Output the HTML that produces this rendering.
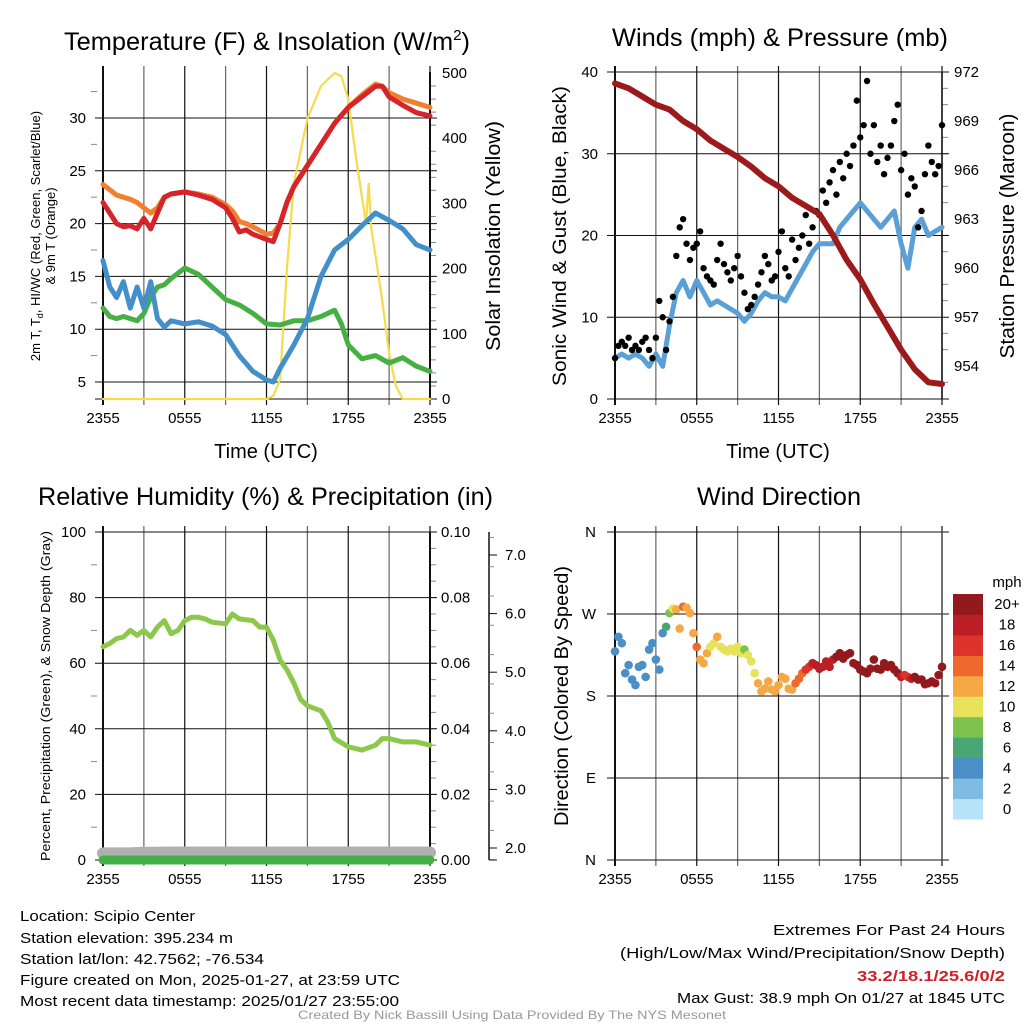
<!DOCTYPE html>
<html><head><meta charset="utf-8"><style>
html,body{margin:0;padding:0;background:#fff;}
svg{display:block;font-family:"Liberation Sans",sans-serif;}
</style></head><body>
<svg id="fig" width="1024" height="1024" viewBox="0 0 1024 1024" xmlns="http://www.w3.org/2000/svg">
<rect width="1024" height="1024" fill="#fff"/>
<text x="64" y="50" font-size="25" textLength="406" lengthAdjust="spacingAndGlyphs">Temperature (F) &amp; Insolation (W/m<tspan dy="-10" font-size="15">2</tspan><tspan dy="10">)</tspan></text>
<text x="612" y="46" font-size="25" textLength="336" lengthAdjust="spacingAndGlyphs">Winds (mph) &amp; Pressure (mb)</text>
<text x="38" y="505" font-size="25" textLength="455" lengthAdjust="spacingAndGlyphs">Relative Humidity (%) &amp; Precipitation (in)</text>
<text x="697" y="505" font-size="25" textLength="164" lengthAdjust="spacingAndGlyphs">Wind Direction</text>
<g id="g1"></g><g id="g2"></g><g id="g3"></g><g id="g4"></g>
<g font-size="15" font-family="'Liberation Sans Narrow','Liberation Sans',sans-serif">
<text x="20" y="921" textLength="175" lengthAdjust="spacingAndGlyphs">Location: Scipio Center</text>
<text x="20" y="943" textLength="213" lengthAdjust="spacingAndGlyphs">Station elevation: 395.234 m</text>
<text x="20" y="964" textLength="244" lengthAdjust="spacingAndGlyphs">Station lat/lon: 42.7562; -76.534</text>
<text x="20" y="985" textLength="380" lengthAdjust="spacingAndGlyphs">Figure created on Mon, 2025-01-27, at 23:59 UTC</text>
<text x="20" y="1006" textLength="379" lengthAdjust="spacingAndGlyphs">Most recent data timestamp: 2025/01/27 23:55:00</text>
</g>
<g font-size="15" font-family="'Liberation Sans Narrow','Liberation Sans',sans-serif" text-anchor="end">
<text x="1005" y="935" textLength="232" lengthAdjust="spacingAndGlyphs">Extremes For Past 24 Hours</text>
<text x="1005" y="958" textLength="385" lengthAdjust="spacingAndGlyphs">(High/Low/Max Wind/Precipitation/Snow Depth)</text>
<text x="1005" y="981" fill="#d0202a" font-weight="bold" textLength="148" lengthAdjust="spacingAndGlyphs">33.2/18.1/25.6/0/2</text>
<text x="1005" y="1003" textLength="328" lengthAdjust="spacingAndGlyphs">Max Gust: 38.9 mph On 01/27 at 1845 UTC</text>
</g>
<text x="512" y="1019" font-size="12" fill="#999" text-anchor="middle" font-family="'Liberation Sans Narrow','Liberation Sans',sans-serif" textLength="428" lengthAdjust="spacingAndGlyphs">Created By Nick Bassill Using Data Provided By The NYS Mesonet</text>
</svg>
<script>
// ---- data (hours since 2355 UTC) ----
const tT=[0,0.5,1,1.5,2,2.5,3,3.5,4,4.5,5,6,7,8,9,9.5,10,10.5,11,12,12.5,13,13.5,14,15,16,17,18,19,20,20.5,21,22,23,24];
const tempRed=[22,21,20,19.7,19.8,19.5,20.5,19.5,21,22.5,22.8,23,22.7,22.3,21.5,20.5,19.2,19.4,19,18.5,18.3,20,22,23.5,25.5,27.5,29.5,31,32,33,33,32,31.2,30.5,30.2];
const temp9m=[23.7,23.2,22.7,22.5,22.3,22,21.5,21,21.5,22.5,22.8,23,22.8,22.5,21.8,21.2,20.2,20,19.7,19,19.1,20,22,23.5,25.5,27.5,29.5,31,32.2,33.2,33,32.4,31.8,31.4,31];
const tD=[0,0.5,1,1.5,2,2.5,3,3.5,4,4.5,5,6,7,8,9,10,11,12,13,14,15,16,17,17.5,18,19,20,21,22,23,24];
const dewpt=[12,11.2,11,11.2,11,10.8,11.5,13,14,14.2,14.8,15.8,15.2,14,12.8,12.3,11.5,10.5,10.4,10.8,10.8,11.2,11.8,10.5,8.5,7.2,7.5,6.8,7.3,6.5,6];
const tB=[0,0.5,1,1.5,2,2.5,3,3.5,4,4.5,5,6,7,8,9,10,11,12,12.5,13,14,15,16,17,18,19,20,21,22,23,24];
const heatIdx=[16.5,14,13,14.5,12,14,12,14.5,11,10.2,10.8,10.5,10.7,10.3,9.5,7.5,6,5.2,5,6.3,8.5,11,15,17.5,18.5,19.8,21,20.3,19.5,18,17.5];
const tS=[0,12,12.5,13,13.5,14,15,16,17,17.5,18,18.5,19,19.3,19.5,19.7,20,20.5,21,21.5,22,24];
const solar=[0,0,5,30,200,330,430,480,500,495,460,380,310,270,330,260,220,150,70,20,0,0];
const tW=[0,0.5,1,1.5,2,2.5,3,3.5,4,4.5,5,5.5,6,6.5,7,7.5,8,8.5,9,9.5,10,10.5,11,11.5,12,12.5,13,13.5,14,14.5,15,15.5,16,16.5,17,17.5,18,18.5,19,19.5,20,20.5,21,21.5,22,22.5,23,23.5,24];
const windSpd=[5,5.5,5,5.5,5,4,5.5,4,9,13,14.5,12.5,14.5,13,11.5,12,11.5,11,10.5,9.5,10.5,12,13,12.5,12.5,12,13.5,15,16.5,18,19,19,19,21,22,23,24,23,22,21,22,23,19,16,21,22,20,20.5,21];
const gusts=[5,6.5,7,6.5,7.5,6,6.5,6,7,7.5,6,5,7.5,12,10,6,9.5,12.5,17.5,21,22,19,17,18.5,19,20.5,16,15,14.5,14,17,19,16.5,15.5,14.5,16,17.5,15,13,11,11.5,12.5,14,15.5,17.5,16.5,14.5,15,18,20.5,16,15,19.5,17,18.5,20,22.5,19,21,23,22.5,25.5,24,26.5,28,25,29,27,30,28.5,31,36.5,32,33.5,38.9,30,33.5,29,31,27.5,29.5,31,34,36,28,30,25,27,26,21,23,27.5,31,29,27.5,28.5,33.5];
const tP=[0,1,2,3,4,5,6,7,8,9,10,11,12,13,14,15,16,17,18,19,20,21,22,23,24];
const pressure=[971.3,971.0,970.5,970.0,969.7,969.0,968.5,967.8,967.3,966.8,966.2,965.5,965.0,964.3,963.8,963.3,962.0,960.5,959.3,957.8,956.4,955.0,953.8,953.0,952.9];
const tR=[0,0.5,1,1.5,2,2.5,3,3.5,4,4.5,5,5.5,6,6.5,7,7.5,8,9,9.5,10,11,11.5,12,12.5,13,13.5,14,14.5,15,16,16.5,17,18,19,20,20.5,21,22,23,24];
const rh=[65,66,67.5,68,70,68.5,70,68,71,73,69,70,73,74,74,73.5,72.5,72,75,73.5,73,71,71,67,61,58,54,49,47,45.5,42,37,34.5,33.5,35,37,37,36,36,35];
const precip=[0,0,0,0,0,0,0,0,0,0,0,0,0,0,0,0,0,0,0,0,0,0,0,0,0];
const snowDepth=[2,2,2,2.2,2.2,2.3,2.3,2.3,2.3,2.3,2.3,2.3,2.3,2.3,2.3,2.3,2.3,2.3,2.3,2.3,2.3,2.3,2.3,2.3,2.3];
const windDir=[229,245,238,205,214,198,192,212,214,201,231,238,220,209,249,256,271,276,275,254,278,277,271,249,234,220,216,227,234,238,245,234,231,229,232,229,234,227,231,225,218,205,194,185,188,196,187,185,192,201,199,188,187,194,199,205,209,212,216,214,210,212,218,212,220,223,227,221,225,227,216,214,209,207,205,210,220,210,209,216,212,214,209,205,201,203,201,199,201,198,198,193,194,196,194,203,212];
const cbLabels=["0","2","4","6","8","10","12","14","16","18","20+"];
const cbColors=["#b6e3f8","#80bbe4","#4a8fc6","#4aa674","#7dc24a","#e6e25a","#f6a845","#ee6a2c","#dc342b","#bb1e25","#921a1d"];
const timeLabels=["2355","0555","1155","1755","2355"];

// ---- helpers ----
const NS="http://www.w3.org/2000/svg";
function mk(parent,tag,attrs,txt){const e=document.createElementNS(NS,tag);for(const k in attrs)e.setAttribute(k,attrs[k]);if(txt!==undefined)e.textContent=txt;parent.appendChild(e);return e;}
function interp(ts,vs,t){for(let i=0;i<ts.length-1;i++){if(t<=ts[i+1]){const f=(t-ts[i])/(ts[i+1]-ts[i]);return vs[i]+f*(vs[i+1]-vs[i]);}}return vs[vs.length-1];}
function line(g,ts,vs,xs,ys,color,w,name){const d=ts.map((t,i)=>(i?"L":"M")+xs(t).toFixed(1)+","+ys(vs[i]).toFixed(1)).join("");const p=mk(g,"path",{d:d,fill:"none",stroke:color,"stroke-width":w,"stroke-linejoin":"round","stroke-linecap":"round"});

return p;}
function frame(g,x0,x1,y0,y1,hTicks,name){
 for(let k=0;k<=8;k++){const x=x0+k*(x1-x0)/8;const l=mk(g,"line",{x1:x,x2:x,y1:y0-6,y2:y1+6,stroke:k%2?"#666":"#111","stroke-width":k===0?2:1.2});
 
 }
 hTicks.forEach(y=>{const l=mk(g,"line",{x1:x0-8,x2:x1+7,y1:y,y2:y,stroke:"#111","stroke-width":1});
 
 });
 timeLabels.forEach((s,i)=>{const t=mk(g,"text",{x:x0+i*(x1-x0)/4,y:y1+24,"font-size":15,"text-anchor":"middle"},s);
 
 });
}
function minor(g,x,ys,len){ys.forEach(y=>{const l=mk(g,"line",{x1:x,x2:x+len,y1:y,y2:y,stroke:"#888","stroke-width":1});

});}
function lbl(g,x,y,s,anchor,name,size){const t=mk(g,"text",{x:x,y:y+5,"font-size":size||15,"text-anchor":anchor},s);

return t;}
function vtitle(g,x,y,s,size,name,len){const a={x:0,y:0,"font-size":size,"text-anchor":"middle",transform:`translate(${x},${y}) rotate(-90)`};if(len){a.textLength=len;a.lengthAdjust="spacingAndGlyphs";}const t=mk(g,"text",a,s);

return t;}

// ---- panel 1: temperature ----
(function(){const g=document.getElementById("g1");
const x0=103,x1=430,xs=t=>x0+t*(x1-x0)/24,yL=v=>382-(v-5)*10.56,yR=v=>399-v*326/500;
const maj=[5,10,15,20,25,30];
minor(g,x0-6,[7.5,12.5,17.5,22.5,27.5,32.5].map(yL),-6);
const rm=[];for(let v=20;v<500;v+=20)if(v%100)rm.push(yR(v));minor(g,x1,rm,6);
frame(g,x0,x1,72,399,maj.map(yL).concat([399]),"temp");
mk(g,"line",{x1:x1,x2:x1,y1:72,y2:399,stroke:"#111","stroke-width":2});
maj.forEach(v=>lbl(g,86,yL(v),String(v),"end","y-tick-label"));
[0,100,200,300,400,500].forEach(v=>lbl(g,442,yR(v),String(v),"start","y2-tick-label"));
line(g,tS,solar,xs,yR,"#f5dc48",2.2,"solar-insolation-line");
line(g,tD,dewpt,xs,yL,"#46b045",5,"dewpoint-line");
line(g,tB,heatIdx,xs,yL,"#438fc9",5,"wind-chill-line");
line(g,tT,temp9m,xs,yL,"#f07f2e",5,"temp-9m-line");
line(g,tT,tempRed,xs,yL,"#d6252a",5,"temp-2m-line");
const lt=mk(g,"text",{x:0,y:0,"font-size":13,"text-anchor":"middle",transform:"translate(40,236) rotate(-90)"});


mk(lt,"tspan",{x:0,dy:0},"2m T, T");mk(lt,"tspan",{"font-size":9,dy:3},"d");mk(lt,"tspan",{dy:-3},", HI/WC (Red, Green, Scarlet/Blue)");
mk(lt,"tspan",{x:0,dy:15},"& 9m T (Orange)");
vtitle(g,500,236,"Solar Insolation (Yellow)",20,"solar-y-axis-title",230);
const xt=mk(g,"text",{x:266,y:458,"font-size":20,"text-anchor":"middle"},"Time (UTC)");


})();

// ---- panel 2: winds ----
(function(){const g=document.getElementById("g2");
const x0=615,x1=942,xs=t=>x0+t*(x1-x0)/24,yW=v=>399-v*327/40,yP=p=>72+(972-p)*49/3;
const rm=[];for(let p=953;p<972;p+=1)if((972-p)%3)rm.push(yP(p));minor(g,x1,rm,6);
frame(g,x0,x1,72,399,[0,10,20,30,40].map(yW),"wind");
mk(g,"line",{x1:x1,x2:x1,y1:72,y2:399,stroke:"#111","stroke-width":1.5});
[0,10,20,30,40].forEach(v=>lbl(g,598,yW(v),String(v),"end","y-tick-label"));
[954,957,960,963,966,969,972].forEach(p=>lbl(g,954,yP(p),String(p),"start","y2-tick-label"));
line(g,tW,windSpd,xs,yW,"#5a9fd6",5,"sustained-wind-line");
gusts.forEach((v,i)=>{const c=mk(g,"circle",{cx:xs(i*0.25),cy:yW(v),r:3.2,fill:"#000"});

});
line(g,tP,pressure,xs,yP,"#9c1a1c",6,"pressure-line");
vtitle(g,566,236,"Sonic Wind & Gust (Blue, Black)",19,"wind-y-axis-title",300);
vtitle(g,1014,236,"Station Pressure (Maroon)",20,"pressure-y-axis-title",245);
const xt=mk(g,"text",{x:778,y:458,"font-size":20,"text-anchor":"middle"},"Time (UTC)");


})();

// ---- panel 3: RH ----
(function(){const g=document.getElementById("g3");
const x0=103,x1=430,xs=t=>x0+t*(x1-x0)/24,yH=v=>860-v*3.28;
minor(g,x0-6,[10,30,50,70,90].map(yH),-6);
const rm=[];for(let v=0.005;v<0.1;v+=0.005)rm.push(yH(v*1000));minor(g,x1,rm,6);
frame(g,x0,x1,532,860,[0,20,40,60,80,100].map(yH),"rh");
mk(g,"line",{x1:x1,x2:x1,y1:532,y2:860,stroke:"#111","stroke-width":2});
[0,20,40,60,80,100].forEach(v=>lbl(g,86,yH(v),String(v),"end","y-tick-label"));
["0.00","0.02","0.04","0.06","0.08","0.10"].forEach((s,i)=>lbl(g,441,yH(i*20),s,"start","y2-tick-label"));
mk(g,"line",{x1:489,x2:489,y1:532,y2:860,stroke:"#111","stroke-width":1.5});
const yS=v=>848-(v-2)*58.6;
for(let v=1.8;v<=7.45;v+=0.5){const l=mk(g,"line",{x1:489,x2:494,y1:yS(v),y2:yS(v),stroke:"#888"});}
["2.0","3.0","4.0","5.0","6.0","7.0"].forEach((s,i)=>{const y=yS(2+i);mk(g,"line",{x1:489,x2:497,y1:y,y2:y,stroke:"#111"});lbl(g,505,y,s,"start","snow-tick-label");});
mk(g,"line",{x1:489,x2:497,y1:860,y2:860,stroke:"#111"});
line(g,tP,snowDepth,xs,yH,"#b0b0b0",12,"snow-depth-line");
line(g,tP,precip,xs,yH,"#46b046",9,"precip-line");
line(g,tR,rh,xs,yH,"#8cc84b",5,"rh-line");
vtitle(g,50,696,"Percent, Precipitation (Green), & Snow Depth (Gray)",13,"rh-y-axis-title",330);
})();

// ---- panel 4: direction ----
(function(){const g=document.getElementById("g4");
const x0=615,x1=942,xs=t=>x0+t*(x1-x0)/24,yD=d=>860-d*328/360;
frame(g,x0,x1,532,860,[0,90,180,270,360].map(yD),"dir");
mk(g,"line",{x1:x1,x2:x1,y1:532,y2:860,stroke:"#555","stroke-width":1.5});
["N","E","S","W","N"].forEach((s,i)=>lbl(g,596,yD(i*90),s,"end","direction-tick-label"));
windDir.forEach((d,i)=>{const t=i*0.25;const s=interp(tW,windSpd,t);const k=Math.min(10,Math.max(0,Math.floor(s/2)));
const c=mk(g,"circle",{cx:xs(t),cy:yD(d),r:4.3,fill:cbColors[k]});

});
vtitle(g,568,696,"Direction (Colored By Speed)",19,"direction-y-axis-title",260);
const cbh=225/cbColors.length;
cbColors.forEach((c,i)=>{const y=819-(i+1)*cbh;const r=mk(g,"rect",{x:953,y:y,width:30,height:cbh+0.5,fill:c});


lbl(g,1007,y+cbh/2,cbLabels[i],"middle","colorbar-label");});
lbl(g,1007,582,"mph","middle","colorbar-title");
})();
</script>
</body></html>
